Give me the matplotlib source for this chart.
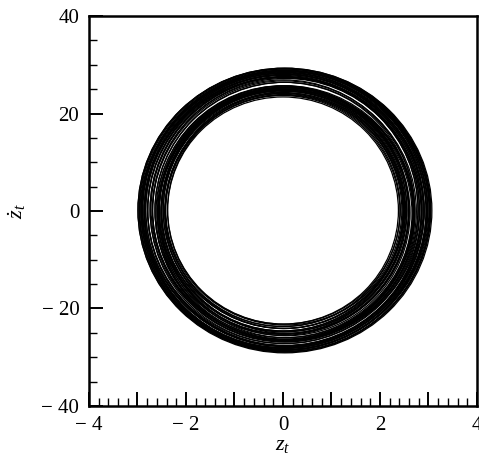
import matplotlib
matplotlib.use("Agg")
import matplotlib.pyplot as plt
from matplotlib.patches import Ellipse
from matplotlib.ticker import MultipleLocator, FixedLocator

plt.rcParams['font.family'] = ['Liberation Serif', 'DejaVu Serif']
plt.rcParams['mathtext.fontset'] = 'custom'
plt.rcParams['mathtext.it'] = 'Liberation Serif:italic'
plt.rcParams['mathtext.rm'] = 'Liberation Serif'

# half-widths / half-heights / centres of each cycle
outer_x_amp = [2.66, 2.68, 2.70, 2.72, 2.74, 2.76, 2.78, 2.80, 2.82, 2.84, 2.85, 2.87, 2.88,
               2.90, 2.91, 2.93, 2.94, 2.96, 2.97, 2.99, 3.00, 3.02, 3.03, 2.79, 2.86, 2.92,
               2.95, 2.98]
outer_y_amp = [26.2, 26.4, 26.6, 26.8, 27.0, 27.1, 27.3, 27.5, 27.6, 27.8, 27.9, 28.0, 28.1,
               28.3, 28.4, 28.5, 28.6, 28.7, 28.8, 28.9, 29.0, 29.1, 29.2, 27.0, 27.7, 28.2,
               28.4, 28.9]
outer_x_ctr = [0.02, 0.04, 0.01, 0.03, 0.05, 0.02, 0.04, 0.01, 0.03, 0.05, 0.02, 0.04, 0.03,
               0.01, 0.05, 0.02, 0.04, 0.03, 0.05, 0.02, 0.04, 0.03, 0.04, 0.07, -0.01, 0.06,
               0.00, 0.05]
outer_y_ctr = [0.2, 0.0, 0.3, -0.1, 0.2, 0.4, 0.1, 0.3, 0.0, 0.2, 0.1, 0.3, -0.1, 0.2, 0.0,
               0.3, 0.1, 0.2, 0.0, 0.3, 0.1, 0.2, 0.1, 0.5, -0.3, 0.4, -0.2, 0.0]

# cycles that drift across the gap on the right and bottom side
mid_x_amp = [2.62, 2.64, 2.66, 2.65, 2.52, 2.56, 2.59]
mid_y_amp = [25.8, 26.0, 26.1, 25.9, 24.8, 25.2, 25.5]
mid_x_ctr = [0.06, 0.05, 0.04, 0.07, 0.08, 0.06, 0.07]
mid_y_ctr = [-0.5, -0.6, -0.4, -0.7, -0.3, -0.4, -0.5]

inner_x_amp = [2.38, 2.40, 2.42, 2.44, 2.45, 2.47, 2.49, 2.50, 2.52, 2.53, 2.55, 2.57, 2.58,
               2.60, 2.46, 2.54]
inner_y_amp = [23.3, 23.5, 23.7, 23.9, 24.0, 24.2, 24.4, 24.6, 24.8, 24.9, 25.1, 25.3, 25.4,
               25.6, 23.8, 25.0]
inner_x_ctr = [0.00, 0.02, -0.01, 0.01, 0.03, 0.00, 0.02, -0.01, 0.01, 0.03, 0.00, 0.02,
               0.01, 0.00, 0.04, -0.02]
inner_y_ctr = [0.1, 0.3, 0.0, 0.2, -0.1, 0.1, 0.3, 0.0, 0.2, 0.1, 0.3, 0.0, 0.2, 0.1, 0.4, -0.2]

x_ticks_major = [-4, -3, -2, -1, 0, 1, 2, 3, 4]
x_tick_labels = ['\u2212 4', '', '\u2212 2', '', '0', '', '2', '', '4']
y_ticks_major = [-40, -20, 0, 20, 40]
y_tick_labels = ['\u2212 40', '\u2212 20', '0', '20', '40']

fig = plt.figure(figsize=(4.79, 4.59), dpi=100)
ax = fig.add_axes([0.1858, 0.1155, 0.81, 0.8496])

all_xa = outer_x_amp + mid_x_amp + inner_x_amp
all_ya = outer_y_amp + mid_y_amp + inner_y_amp
all_xc = outer_x_ctr + mid_x_ctr + inner_x_ctr
all_yc = outer_y_ctr + mid_y_ctr + inner_y_ctr
for xa, ya, xc, yc in zip(all_xa, all_ya, all_xc, all_yc):
    ax.add_patch(Ellipse((xc, yc), 2 * xa, 2 * ya, fill=False, edgecolor='black', linewidth=0.9))

ax.set_xlim(-4, 4)
ax.set_ylim(-40, 40)
ax.xaxis.set_major_locator(FixedLocator(x_ticks_major))
ax.set_xticklabels(x_tick_labels)
ax.xaxis.set_minor_locator(MultipleLocator(0.2))
ax.yaxis.set_major_locator(FixedLocator(y_ticks_major))
ax.set_yticklabels(y_tick_labels)
ax.yaxis.set_minor_locator(MultipleLocator(5))

ax.tick_params(which='both', direction='in', top=False, right=False, labelsize=15)
ax.tick_params(which='major', length=10, width=1.4, pad=7)
ax.tick_params(which='minor', length=6, width=1.0)
for s in ax.spines.values():
    s.set_linewidth(1.8)

ax.set_xlabel(r'$z_t$', fontsize=16, labelpad=1)
ax.set_ylabel(r'$\dot{z}_t$', fontsize=16, labelpad=10)

fig.savefig('out.png', dpi=100)
